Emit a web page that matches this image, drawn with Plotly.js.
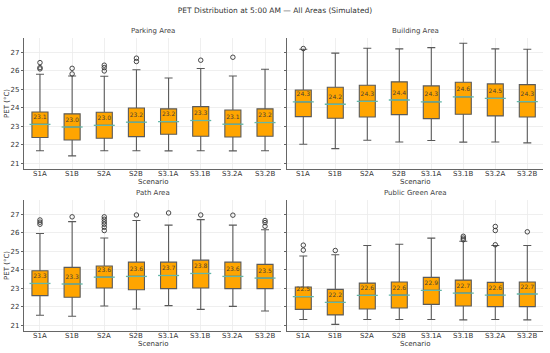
<!DOCTYPE html>
<html><head><meta charset="utf-8">
<script src="https://cdn.plot.ly/plotly-3.0.1.min.js"></script>
<style>html,body{margin:0;padding:0;background:#fff}#chart{width:550px;height:353px}</style>
</head><body><div id="chart"></div>
<script>
const scenarios = ['S1A','S1B','S2A','S2B','S3.1A','S3.1B','S3.2A','S3.2B'];
const areaNames = ['Parking Area','Building Area','Path Area','Public Green Area'];

// Parking Area
const parkingQ1     = [22.39,22.26,22.35,22.44,22.57,22.46,22.42,22.46];
const parkingMedian = [23.10,22.96,23.05,23.22,23.25,23.31,23.11,23.20];
const parkingQ3     = [23.77,23.67,23.76,23.99,23.94,24.06,23.88,23.94];
const parkingLow    = [21.68,21.40,21.68,21.68,21.67,21.68,21.67,21.68];
const parkingHigh   = [25.81,25.72,25.70,26.05,25.61,26.12,25.72,26.08];
const parkingLabels = ['23.1','23.0','23.0','23.2','23.2','23.3','23.1','23.2'];
const parkingOutX   = ['S1A','S1A','S1A','S1B','S1B','S2A','S2A','S2A','S2B','S2B','S3.1B','S3.2A'];
const parkingOutY   = [26.44,26.17,26.10,26.13,25.83,26.30,26.17,25.99,26.68,26.50,26.57,26.73];

// Building Area
const buildingQ1     = [23.52,23.43,23.50,23.63,23.41,23.65,23.56,23.50];
const buildingMedian = [24.32,24.19,24.35,24.42,24.32,24.59,24.51,24.33];
const buildingQ3     = [24.96,25.11,25.22,25.40,25.18,25.38,25.29,25.25];
const buildingLow    = [22.03,21.79,22.24,22.15,22.23,22.14,22.15,22.10];
const buildingHigh   = [27.16,26.95,27.22,27.18,27.25,27.49,27.18,27.16];
const buildingLabels = ['24.3','24.2','24.3','24.4','24.3','24.6','24.5','24.3'];
const buildingOutX   = ['S1A'];
const buildingOutY   = [27.20];

// Path Area
const pathQ1     = [22.60,22.51,23.01,22.92,22.98,23.01,22.98,22.98];
const pathMedian = [23.26,23.23,23.60,23.64,23.69,23.80,23.64,23.55];
const pathQ3     = [23.95,24.13,24.20,24.41,24.41,24.52,24.41,24.29];
const pathLow    = [21.54,21.49,22.04,21.88,22.06,21.86,22.02,21.77];
const pathHigh   = [25.96,26.60,25.72,26.66,26.41,26.71,26.41,26.16];
const pathLabels = ['23.3','23.3','23.6','23.6','23.7','23.8','23.6','23.5'];
const pathOutX   = ['S1A','S1A','S1A','S1B','S2A','S2A','S2A','S2A','S2A','S2A','S2B','S3.1A','S3.1B','S3.2A','S3.2B','S3.2B','S3.2B'];
const pathOutY   = [26.69,26.57,26.46,26.86,26.86,26.73,26.59,26.46,26.30,26.12,26.96,27.07,26.96,26.95,26.66,26.55,26.35];

// Public Green Area
const greenQ1     = [21.86,21.56,21.88,21.93,22.13,22.04,22.01,22.01];
const greenMedian = [22.55,22.24,22.62,22.63,22.89,22.74,22.63,22.69];
const greenQ3     = [23.07,22.94,23.28,23.34,23.59,23.44,23.32,23.34];
const greenLow    = [21.31,21.05,21.31,21.31,21.31,21.29,21.31,21.29];
const greenHigh   = [24.74,24.81,25.31,25.38,25.71,25.54,25.31,25.31];
const greenLabels = ['22.5','22.2','22.6','22.6','22.9','22.7','22.6','22.7'];
const greenOutX   = ['S1A','S1A','S1B','S3.1B','S3.1B','S3.1B','S3.2A','S3.2A','S3.2A','S3.2B'];
const greenOutY   = [25.33,25.06,25.04,25.81,25.71,25.62,26.34,26.12,25.35,26.05];

const yTicks = [21,22,23,24,25,26,27];

const areas = [
  {q1:parkingQ1, med:parkingMedian, q3:parkingQ3, lo:parkingLow, hi:parkingHigh, lab:parkingLabels, ox:parkingOutX, oy:parkingOutY},
  {q1:buildingQ1, med:buildingMedian, q3:buildingQ3, lo:buildingLow, hi:buildingHigh, lab:buildingLabels, ox:buildingOutX, oy:buildingOutY},
  {q1:pathQ1, med:pathMedian, q3:pathQ3, lo:pathLow, hi:pathHigh, lab:pathLabels, ox:pathOutX, oy:pathOutY},
  {q1:greenQ1, med:greenMedian, q3:greenQ3, lo:greenLow, hi:greenHigh, lab:greenLabels, ox:greenOutX, oy:greenOutY}
];

const W = 550, H = 353;
const xDom = [[23.9/W, 281.1/W],[287.3/W, 543.3/W]];
const yDom = [[1-169/H, 1-38/H],[1-331/H, 1-200/H]];

const traces = [];
const layout = {
  width: W, height: H,
  margin: {l:0, r:0, t:0, b:0},
  paper_bgcolor: '#fff', plot_bgcolor: '#fff',
  showlegend: false,
  font: {family: 'DejaVu Sans', size: 7, color: '#333'},
  title: {text: 'PET Distribution at 5:00 AM — All Areas (Simulated)', x: 0.5, xanchor: 'center', y: 1-10/H, yanchor: 'middle', font: {size: 7.5, color: '#333'}},
  annotations: []
};

areas.forEach((a, i) => {
  const row = Math.floor(i/2), col = i % 2;
  const n = i + 1;
  const xa = 'x' + (n === 1 ? '' : n), ya = 'y' + (n === 1 ? '' : n);
  const xk = 'xaxis' + (n === 1 ? '' : n), yk = 'yaxis' + (n === 1 ? '' : n);
  layout[xk] = {
    domain: xDom[col], anchor: ya, type: 'category', categoryorder: 'array', categoryarray: scenarios,
    range: [-0.5, 7.5], showgrid: true, gridcolor: '#ebebeb', gridwidth: 0.8,
    showline: true, linecolor: '#666', linewidth: 1, ticks: '',
    showticklabels: false, zeroline: false
  };
  layout[yk] = {
    domain: yDom[row], anchor: xa, range: [20.69, 27.77], tickvals: yTicks,
    showgrid: true, gridcolor: '#ebebeb', gridwidth: 0.8,
    showline: true, linecolor: '#666', linewidth: 1, ticks: 'outside', ticklen: 2, tickcolor: '#666',
    showticklabels: col === 0, tickfont: {size: 7, color: '#333'}, zeroline: false
  };
  traces.push({
    type: 'box', xaxis: xa, yaxis: ya, x: scenarios,
    q1: a.q1, median: a.med, q3: a.q3, lowerfence: a.lo, upperfence: a.hi,
    width: 0.5, whiskerwidth: 0.5, boxpoints: false,
    fillcolor: '#FFA500', line: {color: '#5a5a5a', width: 1.1}, hoverinfo: 'skip'
  });
  traces.push({
    type: 'scatter', mode: 'markers', xaxis: xa, yaxis: ya, x: scenarios, y: a.med,
    marker: {symbol: 'line-ew', size: 15, line: {color: '#63b7a8', width: 1.3}}, hoverinfo: 'skip'
  });
  traces.push({
    type: 'scatter', mode: 'markers', xaxis: xa, yaxis: ya, x: a.ox, y: a.oy,
    marker: {symbol: 'circle-open', size: 4.5, color: '#333', line: {width: 0.9}}, hoverinfo: 'skip'
  });
  traces.push({
    type: 'scatter', mode: 'text', xaxis: xa, yaxis: ya, x: scenarios, y: a.med.map(v => v + 0.37),
    text: a.lab, textposition: 'middle center', textfont: {size: 6, color: '#4a4030'}, hoverinfo: 'skip'
  });
  // category tick labels placed tight under the axis, as in the reference
  scenarios.forEach(s => {
    layout.annotations.push({
      text: s, xref: xa, yref: 'paper', x: s, y: yDom[row][0] - 4.6/H,
      xanchor: 'center', yanchor: 'middle', showarrow: false, font: {size: 7, color: '#333'}
    });
  });
  const xc = (xDom[col][0] + xDom[col][1]) / 2;
  layout.annotations.push({
    text: areaNames[i], xref: 'paper', yref: 'paper',
    x: xc, y: yDom[row][1] + 1.5/H,
    xanchor: 'center', yanchor: 'bottom', showarrow: false, font: {size: 7, color: '#444'}
  });
  layout.annotations.push({
    text: 'Scenario', xref: 'paper', yref: 'paper',
    x: xc, y: yDom[row][0] - 12.8/H,
    xanchor: 'center', yanchor: 'middle', showarrow: false, font: {size: 7, color: '#333'}
  });
  if (col === 0) {
    layout.annotations.push({
      text: 'PET (°C)', xref: 'paper', yref: 'paper', textangle: -90,
      x: 6.5/W, y: (yDom[row][0] + yDom[row][1]) / 2,
      xanchor: 'center', yanchor: 'middle', showarrow: false, font: {size: 7, color: '#333'}
    });
  }
});

Plotly.newPlot('chart', traces, layout, {staticPlot: true, displayModeBar: false});
</script></body></html>
